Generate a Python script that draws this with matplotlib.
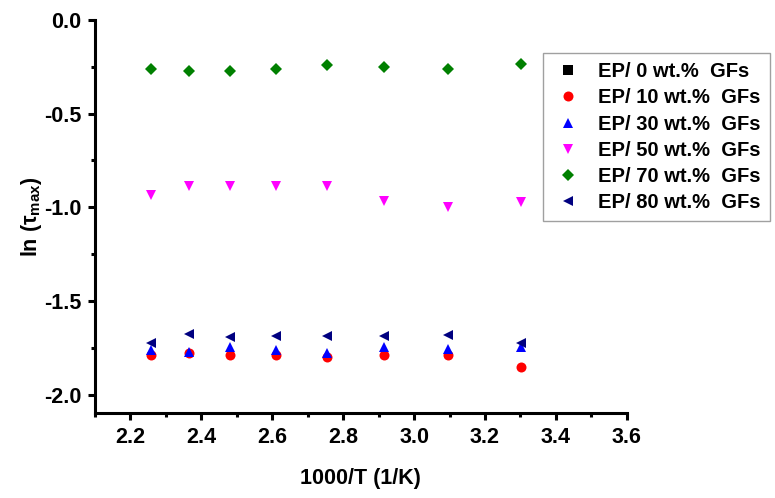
"""
ln(tau_max) vs 1000/T for EP/GF composites
"""

import matplotlib
matplotlib.use("Agg")
import matplotlib.pyplot as plt
from matplotlib.ticker import MultipleLocator

plt.rcParams['font.family'] = ['Liberation Sans', 'DejaVu Sans']
plt.rcParams['font.weight'] = 'bold'
plt.rcParams['axes.unicode_minus'] = False
plt.rcParams['mathtext.fontset'] = 'custom'
plt.rcParams['mathtext.rm'] = 'Liberation Sans:bold'
plt.rcParams['mathtext.it'] = 'Liberation Sans:bold'
plt.rcParams['mathtext.bf'] = 'Liberation Sans:bold'

# 1000/T values (T = 443 ... 303 K)
inv_t = [2.257, 2.364, 2.481, 2.611, 2.755, 2.915, 3.096, 3.301]

ep0 = []  # no points visible for the neat resin
ep10 = [-1.788, -1.778, -1.788, -1.788, -1.799, -1.788, -1.788, -1.852]
ep30 = [-1.760, -1.773, -1.746, -1.760, -1.780, -1.746, -1.757, -1.745]
ep50 = [-0.937, -0.889, -0.889, -0.889, -0.889, -0.965, -0.999, -0.972]
ep70 = [-0.263, -0.274, -0.274, -0.263, -0.238, -0.251, -0.263, -0.236]
ep80 = [-1.724, -1.675, -1.693, -1.685, -1.685, -1.685, -1.683, -1.723]

labels = ['EP/ 0 wt.%  GFs', 'EP/ 10 wt.%  GFs', 'EP/ 30 wt.%  GFs',
          'EP/ 50 wt.%  GFs', 'EP/ 70 wt.%  GFs', 'EP/ 80 wt.%  GFs']

series = [
    (ep0, 's', 'black', 6.5),
    (ep10, 'o', 'red', 7.2),
    (ep30, '^', 'blue', 7.5),
    (ep50, 'v', 'magenta', 7.5),
    (ep70, 'D', 'green', 6.3),
    (ep80, '<', 'navy', 7.5),
]

fig = plt.figure(figsize=(7.75, 4.98), dpi=100)
ax = fig.add_axes([0.1226, 0.170, 0.6861, 0.790])

for (vals, mk, col, ms), lab in zip(series, labels):
    xs = inv_t[:len(vals)]
    ax.plot(xs, vals, linestyle='none', marker=mk, color=col,
            markersize=ms, markeredgewidth=0, label=lab)

ax.set_xlim(2.1, 3.6)
ax.set_ylim(-2.1, 0.0)
ax.xaxis.set_major_locator(MultipleLocator(0.2))
ax.xaxis.set_minor_locator(MultipleLocator(0.1))
ax.yaxis.set_major_locator(MultipleLocator(0.5))
ax.yaxis.set_minor_locator(MultipleLocator(0.25))

for side in ['top', 'right']:
    ax.spines[side].set_visible(False)
for side in ['left', 'bottom']:
    ax.spines[side].set_linewidth(2.2)

ax.tick_params(which='major', direction='out', length=5, width=2.2,
               labelsize=15.5, pad=5)
ax.tick_params(which='minor', direction='out', length=3, width=2.2)
for lbl in ax.get_xticklabels() + ax.get_yticklabels():
    lbl.set_fontweight('bold')

ax.set_xlabel('1000/T (1/K)', fontsize=15.5, fontweight='bold', labelpad=14)
ax.set_ylabel(r'ln ($\tau_{max}$)', fontsize=15.5, fontweight='bold', labelpad=0)

leg = ax.legend(loc='upper right', bbox_to_anchor=(0.9935, 0.8936),
                bbox_transform=fig.transFigure, fontsize=14.5,
                frameon=True, fancybox=False, borderpad=0.45,
                labelspacing=0.36, handletextpad=0.7, handlelength=1.6,
                borderaxespad=0)
leg.get_frame().set_edgecolor('#888888')
leg.get_frame().set_linewidth(1.0)
for t in leg.get_texts():
    t.set_fontweight('bold')

fig.savefig('out.png', dpi=100)
